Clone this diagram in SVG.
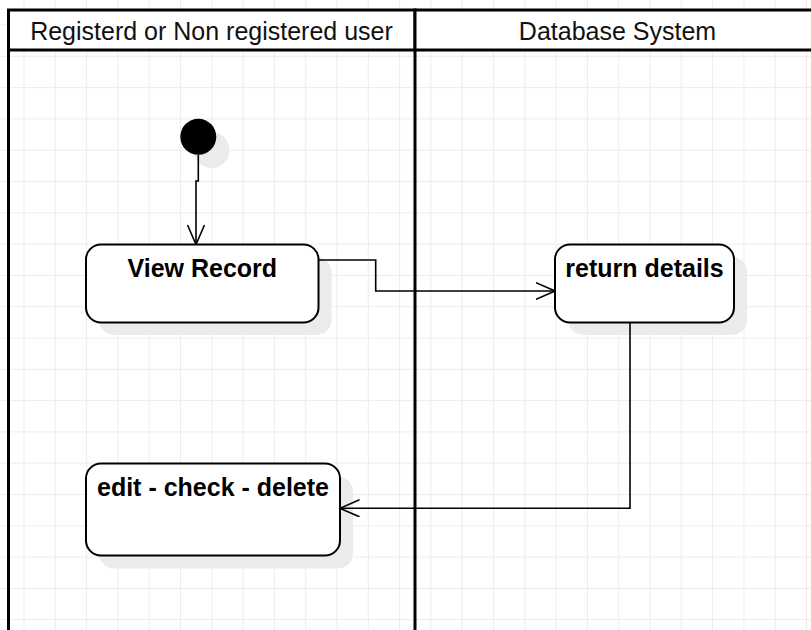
<svg xmlns="http://www.w3.org/2000/svg" width="811" height="630" viewBox="0 0 811 630">
  <defs>
    <pattern id="grid" x="23.5" y="24.5" width="31.3" height="31.3" patternUnits="userSpaceOnUse">
      <path d="M0.5 0 V31.3 M0 0.5 H31.3" fill="none" stroke="#ececec" stroke-width="1"/>
    </pattern>
    <marker id="open" viewBox="0 0 20 18" refX="19.5" refY="9" markerWidth="20" markerHeight="18" markerUnits="userSpaceOnUse" orient="auto">
      <path d="M0 0.5 L19.5 9 L0 17.5" fill="none" stroke="#000" stroke-width="1.6"/>
    </marker>
  </defs>
  <style>
    .lane { fill: none; stroke: #000; stroke-width: 3; }
    .hdr { fill: #fff; stroke: #000; stroke-width: 3; }
    .htxt { font-family: "Liberation Sans", Arial, sans-serif; font-size: 25px; fill: #111; text-anchor: middle; }
    .shadow { fill: #ebebeb; stroke: none; }
    .box { fill: #fff; stroke: #000; stroke-width: 2; }
    .label { font-family: "Liberation Sans", Arial, sans-serif; font-size: 25px; font-weight: bold; fill: #000; text-anchor: middle; }
    .conn { fill: none; stroke: #000; stroke-width: 1.6; marker-end: url(#open); }
  </style>
  <rect x="0" y="0" width="811" height="630" fill="#fff"/>
  <rect x="0" y="0" width="811" height="630" fill="url(#grid)"/>

  <g id="lanes">
    <g id="lane-user">
      <rect class="hdr" x="8.5" y="10" width="406.5" height="40"/>
      <text class="htxt" x="211.5" y="39.5">Registerd or Non registered user</text>
      <line class="lane" x1="8.5" y1="50" x2="8.5" y2="632"/>
    </g>
    <g id="lane-db">
      <rect class="hdr" x="415" y="10" width="410" height="40"/>
      <text class="htxt" x="617.5" y="39.5">Database System</text>
      <line class="lane" x1="415" y1="50" x2="415" y2="632"/>
    </g>
  </g>

  <g id="initial">
    <circle class="shadow" cx="211.5" cy="150" r="18"/>
    <circle cx="198.3" cy="136.8" r="18" fill="#000"/>
  </g>

  <g id="view-record">
    <rect class="shadow" x="99" y="257" width="232.5" height="78" rx="15"/>
    <rect class="box" x="86" y="244.5" width="232.5" height="78" rx="15"/>
    <text class="label" x="202.3" y="277">View Record</text>
  </g>

  <g id="return-details">
    <rect class="shadow" x="568" y="257" width="179" height="78" rx="15"/>
    <rect class="box" x="555" y="244.5" width="179" height="78" rx="15"/>
    <text class="label" x="644.5" y="277">return details</text>
  </g>

  <g id="edit-check-delete">
    <rect class="shadow" x="99" y="476.5" width="254" height="92" rx="15"/>
    <rect class="box" x="86" y="463.5" width="254" height="92" rx="15"/>
    <text class="label" x="213" y="496">edit - check - delete</text>
  </g>

  <g id="connectors">
    <path class="conn" d="M198.3 155 V181 H196 V244.5"/>
    <path class="conn" d="M318.5 260 H375.7 V291 H555"/>
    <path class="conn" d="M630 322.5 V508.3 H340"/>
  </g>
</svg>
